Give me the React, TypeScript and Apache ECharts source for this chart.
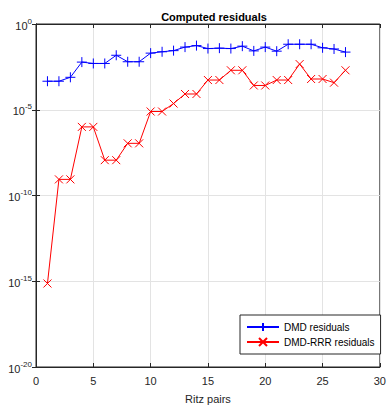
import React, { useEffect, useRef } from "react";
import * as echarts from "echarts";

const ritzPairs = [1,2,3,4,5,6,7,8,9,10,11,12,13,14,15,16,17,18,19,20,21,22,23,24,25,26,27];
const dmdResiduals = [4.6e-4,4.6e-4,7.8e-4,6.0e-3,5.0e-3,5.0e-3,1.5e-2,6.3e-3,6.3e-3,2.0e-2,2.4e-2,2.8e-2,4.5e-2,5.5e-2,3.7e-2,3.9e-2,3.7e-2,5.1e-2,2.7e-2,4.5e-2,2.6e-2,6.6e-2,6.6e-2,6.6e-2,4.1e-2,3.5e-2,2.3e-2];
const rrrResiduals = [7.4e-16,8.7e-10,8.7e-10,1.0e-6,1.0e-6,1.15e-8,1.15e-8,1.1e-7,1.1e-7,7.9e-6,7.9e-6,2.3e-5,8.3e-5,8.3e-5,5.4e-4,5.4e-4,2.0e-3,2.0e-3,2.6e-4,2.6e-4,5.4e-4,5.4e-4,4.6e-3,6.2e-4,6.2e-4,3.8e-4,2.0e-3];
const seriesNames = ["DMD residuals", "DMD-RRR residuals"];

const FONT = "Liberation Sans, Arial, sans-serif";
const TXT = "#262626";
const PLUS = "path://M0,5L10,5M5,0L5,10";
const CROSS = "path://M0,0L10,10M0,10L10,0";

export default function App() {
  const ref = useRef<HTMLDivElement>(null);
  useEffect(() => {
    document.body.style.margin = "0";
    const chart = echarts.init(ref.current!, null, { renderer: "svg" });
    const yFmt = (v: number) => {
      const e = Math.round(Math.log10(v));
      return `{b|10}{s|${e}}`;
    };
    const tickStyle = { show: true, inside: true, length: 4, lineStyle: { color: TXT, width: 1 } };
    chart.setOption({
      animation: false,
      backgroundColor: "#ffffff",
      textStyle: { fontFamily: FONT },
      title: {
        text: "Computed residuals",
        left: 209,
        textAlign: "center",
        top: 6,
        textStyle: { fontSize: 11, fontWeight: "bold", color: "#000", fontFamily: FONT },
      },
      grid: { left: 36, right: 7, top: 24, bottom: 40, show: true, borderColor: TXT, borderWidth: 1, backgroundColor: "#fff" },
      legend: {
        orient: "vertical",
        left: 240,
        top: 315,
        width: 131,
        padding: [7, 6, 7, 6],
        itemWidth: 32,
        itemHeight: 10,
        itemGap: 5,
        backgroundColor: "#fff",
        borderColor: TXT,
        borderWidth: 1,
        borderRadius: 0,
        textStyle: { fontSize: 10, color: "#000", fontFamily: FONT },
        data: seriesNames,
      },
      xAxis: [
        {
          type: "value",
          min: 0,
          max: 30,
          interval: 5,
          name: "Ritz pairs",
          nameLocation: "middle",
          nameGap: 26,
          nameTextStyle: { fontSize: 11, color: TXT, fontFamily: FONT },
          axisLine: { show: true, lineStyle: { color: TXT } },
          axisTick: tickStyle,
          axisLabel: { fontSize: 11, color: TXT, margin: 8, fontFamily: FONT },
          splitLine: { show: true, lineStyle: { color: "#e3e3e3", width: 1 } },
        },
        {
          type: "value",
          position: "top",
          min: 0,
          max: 30,
          interval: 5,
          axisLine: { show: true, lineStyle: { color: TXT } },
          axisTick: tickStyle,
          axisLabel: { show: false },
          splitLine: { show: false },
        },
      ],
      yAxis: [
        {
          type: "log",
          logBase: 100000,
          min: 1e-20,
          max: 1,
          splitNumber: 4,
          axisLine: { show: true, lineStyle: { color: TXT } },
          axisTick: tickStyle,
          minorTick: { show: false },
          axisLabel: {
            formatter: yFmt,
            margin: 4,
            rich: {
              b: { fontSize: 11, color: TXT, fontFamily: FONT, lineHeight: 14, verticalAlign: "bottom" },
              s: { fontSize: 8, color: TXT, fontFamily: FONT, lineHeight: 14, verticalAlign: "top" },
            },
          },
          splitLine: { show: true, lineStyle: { color: "#e3e3e3", width: 1 } },
        },
        {
          type: "log",
          logBase: 100000,
          min: 1e-20,
          max: 1,
          splitNumber: 4,
          position: "right",
          axisLine: { show: true, lineStyle: { color: TXT } },
          axisTick: tickStyle,
          axisLabel: { show: false },
          splitLine: { show: false },
        },
      ],
      series: [
        {
          name: seriesNames[0],
          type: "line",
          data: ritzPairs.map((x, i) => [x, dmdResiduals[i]]),
          symbol: PLUS,
          symbolSize: 10,
          lineStyle: { color: "#0000ff", width: 1 },
          itemStyle: { color: "#0000ff", borderColor: "#0000ff", borderWidth: 1 },
          emphasis: { disabled: true },
        },
        {
          name: seriesNames[1],
          type: "line",
          data: ritzPairs.map((x, i) => [x, rrrResiduals[i]]),
          symbol: CROSS,
          symbolSize: 8,
          lineStyle: { color: "#ff0000", width: 1 },
          itemStyle: { color: "#ff0000", borderColor: "#ff0000", borderWidth: 1 },
          emphasis: { disabled: true },
        },
      ],
    });
    return () => chart.dispose();
  }, []);
  return <div ref={ref} style={{ width: 389, height: 409, position: "absolute", left: 0, top: 0 }} />;
}
